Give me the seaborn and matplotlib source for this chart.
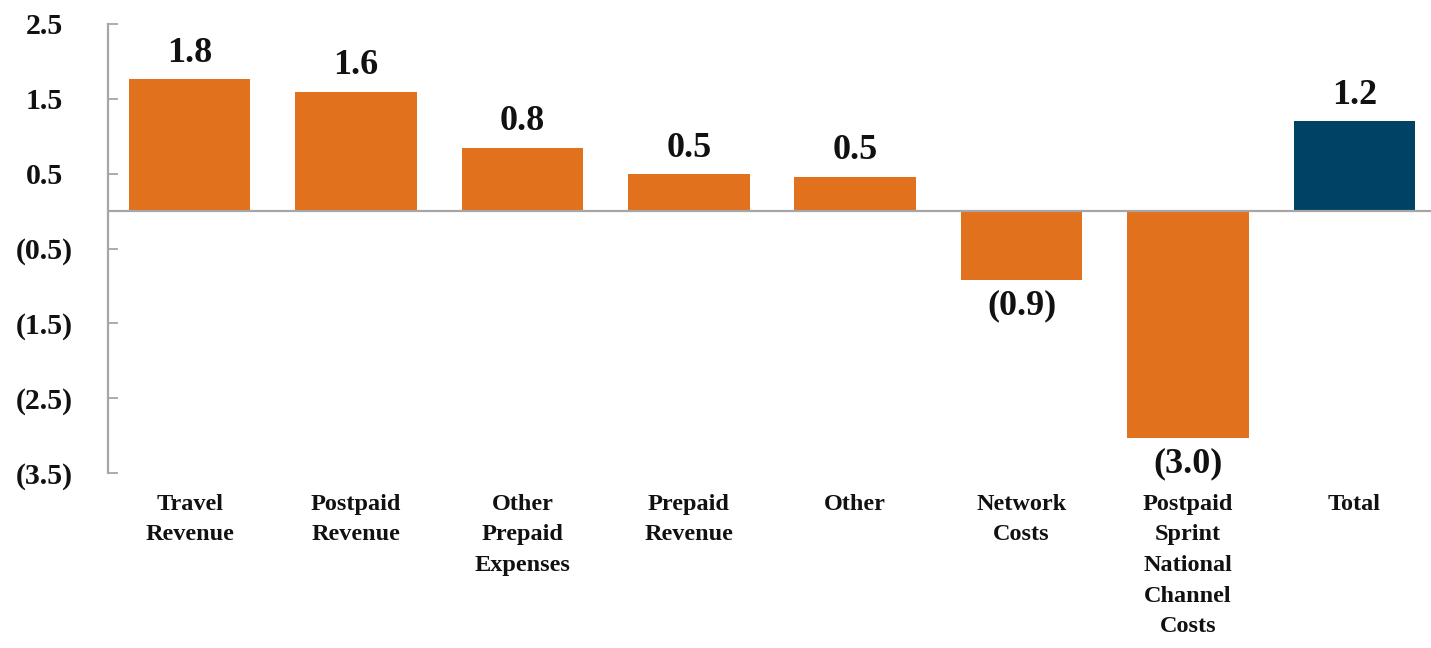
import matplotlib
matplotlib.use("Agg")
import matplotlib.pyplot as plt
import seaborn as sns

# Bridge components (in billions) and the resulting total
categories = [
    "Travel\nRevenue",
    "Postpaid\nRevenue",
    "Other\nPrepaid\nExpenses",
    "Prepaid\nRevenue",
    "Other",
    "Network\nCosts",
    "Postpaid\nSprint\nNational\nChannel\nCosts",
    "Total",
]
values = [1.76, 1.59, 0.84, 0.49, 0.46, -0.92, -3.03, 1.20]
kinds = ["change"] * 7 + ["total"]
y_ticks = [2.5, 1.5, 0.5, -0.5, -1.5, -2.5, -3.5]

sns.set_theme(style="white")
plt.rcParams["font.family"] = ["Liberation Serif", "DejaVu Serif"]
plt.rcParams["font.weight"] = "bold"

ORANGE = "#E2711D"
NAVY = "#004166"
GRAY = "#A6A6A6"


def fmt(v):
    return f"({abs(v):.1f})" if v < 0 else f"{v:.1f}"


fig = plt.figure(figsize=(14.31, 6.48), dpi=100)
ax = fig.add_axes([0.0755, 0.270, 0.9245, 0.693])

sns.barplot(
    x=categories, y=values, hue=kinds,
    palette={"change": ORANGE, "total": NAVY},
    dodge=False, legend=False, width=0.73, saturation=1,
    linewidth=0, ax=ax, zorder=3,
)

for cont in ax.containers:
    ax.bar_label(cont, fmt=fmt, padding=7, fontsize=26, fontweight="bold",
                 color="#111111")

ax.axhline(0, color=GRAY, lw=1.6, zorder=4)

ax.set_ylim(-3.5, 2.5)
ax.set_xlim(-0.49, 7.46)
ax.set_yticks(y_ticks)
ax.set_yticklabels([fmt(t) for t in y_ticks], fontsize=21.5, fontweight="bold",
                   color="#111111")
for lbl in ax.get_yticklabels():
    lbl.set_horizontalalignment("center")
ax.tick_params(axis="y", direction="in", length=7, width=1.3, color=GRAY,
               pad=46, left=True)
ax.tick_params(axis="x", length=0, pad=15, labelsize=17.5, labelcolor="#111111")
for lbl in ax.get_xticklabels():
    lbl.set_fontweight("bold")
    lbl.set_linespacing(1.6)

for side in ("top", "right", "bottom"):
    ax.spines[side].set_visible(False)
ax.spines["left"].set_color(GRAY)
ax.spines["left"].set_linewidth(1.6)
ax.set_xlabel("")
ax.set_ylabel("")

fig.savefig("out.png", dpi=100, facecolor="white")
